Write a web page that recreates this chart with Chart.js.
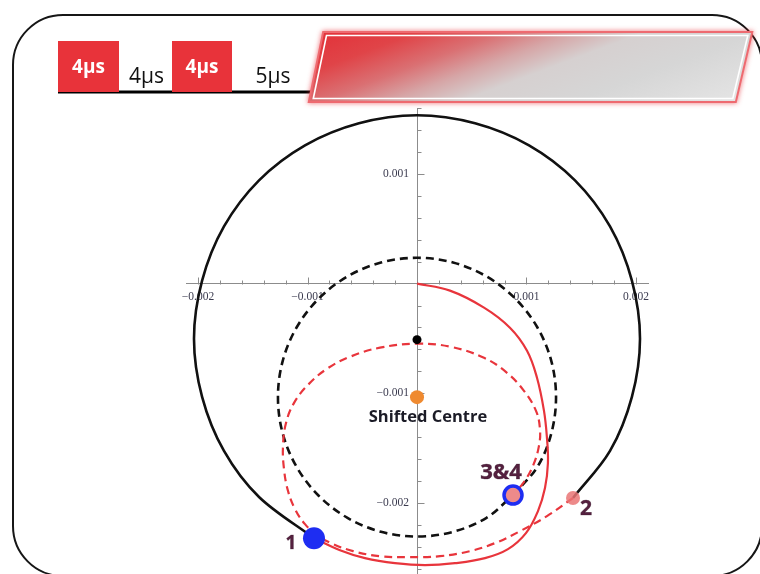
<!DOCTYPE html>
<html>
<head>
<meta charset="utf-8">
<script src="https://cdn.jsdelivr.net/npm/chart.js@4.4.1/dist/chart.umd.min.js"></script>
<style>
  html, body { margin: 0; padding: 0; background: #fff; }
  #wrap { width: 760px; height: 574px; position: relative; overflow: hidden; }
</style>
</head>
<body>
<div id="wrap"><canvas id="phase" width="760" height="588"></canvas></div>
<script>
// all coordinates in units of 1e-3 (tick labels show the real value)
const xMajorTicks = [-2, -1, 1, 2];
const yMajorTicks = [1, -1, -2];
const minorStep = 0.2;

// pulse sequence along the top
const pulseLabels = ['4μs', '4μs', '4μs', '5μs'];
const pulseOn = [true, false, true, false];

// free evolution round the unshifted centre (1 -> 2)
const outerArc = [
  [-0.941, -2.320], [-1.443, -1.945], [-1.763, -1.525], [-1.963, -1.032],
  [-2.037, -0.502], [-1.963, 0.027], [-1.763, 0.521], [-1.443, 0.941],
  [-1.023, 1.260], [-0.530, 1.461], [0, 1.534], [0.530, 1.461],
  [1.023, 1.260], [1.443, 0.941], [1.763, 0.521], [1.963, 0.027],
  [2.037, -0.502], [1.963, -1.032], [1.763, -1.525], [1.425, -1.954]
];

// free evolution round the shifted centre (3 -> 4)
const innerCircle = [
  [0.877, -1.927], [1.100, -1.670], [1.227, -1.364], [1.270, -1.035],
  [1.227, -0.706], [1.100, -0.400], [0.898, -0.137], [0.635, 0.065],
  [0.329, 0.192], [0, 0.235], [-0.329, 0.192], [-0.635, 0.065],
  [-0.898, -0.137], [-1.100, -0.400], [-1.227, -0.706], [-1.270, -1.035],
  [-1.227, -1.364], [-1.100, -1.670], [-0.898, -1.933], [-0.635, -2.135],
  [-0.329, -2.262], [0, -2.305], [0.329, -2.262], [0.635, -2.135],
  [0.877, -1.927]
];

// first pulse: origin -> 1
const firstPulse = [
  [0, 0], [0.301, -0.064], [0.612, -0.219], [0.849, -0.402], [1.005, -0.612],
  [1.096, -0.858], [1.160, -1.160], [1.187, -1.406], [1.196, -1.635],
  [1.169, -1.863], [1.105, -2.073], [0.995, -2.274], [0.831, -2.420],
  [0.621, -2.502], [0.347, -2.548], [0.073, -2.566], [-0.201, -2.548],
  [-0.475, -2.502], [-0.703, -2.429], [-0.941, -2.320]
];

// second pulse: 2 -> 3
const secondPulse = [
  [1.425, -1.954], [1.187, -2.119], [0.941, -2.256], [0.712, -2.365],
  [0.484, -2.438], [0.210, -2.484], [-0.064, -2.493], [-0.338, -2.484],
  [-0.584, -2.438], [-0.785, -2.365], [-0.913, -2.292], [-1.023, -2.192],
  [-1.114, -2.055], [-1.178, -1.890], [-1.215, -1.689], [-1.224, -1.479],
  [-1.196, -1.269], [-1.123, -1.087], [-0.995, -0.922], [-0.822, -0.776],
  [-0.612, -0.667], [-0.338, -0.584], [0, -0.548], [0.301, -0.575],
  [0.612, -0.676], [0.822, -0.813], [0.977, -0.977], [1.087, -1.160],
  [1.123, -1.324], [1.114, -1.479], [1.059, -1.662], [0.977, -1.808],
  [0.877, -1.927]
];

const point1 = [-0.941, -2.320];
const point2 = [1.425, -1.954];
const point34 = [0.877, -1.927];
const centre = [0, -0.511];
const shiftedCentre = [0, -1.035];
const pointLabels = ['3&4', '1', '2'];

const RED = '#e8353c';
const BLUE = '#1e2df2';

function toXY(list) {
  return list.map(p => ({x: p[0], y: p[1]}));
}

function isMajor(v, majors) {
  return majors.some(m => Math.abs(m - v) < 1e-6);
}

function tickValues(from, to) {
  let out = [];
  let n = Math.round((to - from) / minorStep);
  for (let i = 0; i <= n; i++) {
    let v = Math.round((from + i * minorStep) * 10) / 10;
    if (v !== 0) out.push({value: v});
  }
  return out;
}

function tickText(v, majors) {
  if (!isMajor(v, majors)) return '';
  return (v / 1000).toFixed(3).replace('-', '\u2212');
}

function zeroPad(scale) {
  scale.paddingTop = 0;
  scale.paddingBottom = 0;
  scale.paddingLeft = 0;
  scale.paddingRight = 0;
}

function curve(data, color, width, dash, tension) {
  return {
    data: toXY(data),
    showLine: true,
    borderColor: color,
    borderWidth: width,
    borderDash: dash,
    pointRadius: 0,
    tension: tension,
    fill: false
  };
}

function marker(p, fill, radius, border, borderWidth) {
  return {
    data: toXY([p]),
    showLine: false,
    pointRadius: radius,
    pointBackgroundColor: fill,
    pointBorderColor: border || fill,
    pointBorderWidth: borderWidth || 0
  };
}

function roundedRect(ctx, x, y, w, h, r) {
  ctx.beginPath();
  ctx.moveTo(x + r, y);
  ctx.arcTo(x + w, y, x + w, y + h, r);
  ctx.arcTo(x + w, y + h, x, y + h, r);
  ctx.arcTo(x, y + h, x, y, r);
  ctx.arcTo(x, y, x + w, y, r);
  ctx.closePath();
}

function poly(ctx, pts) {
  ctx.beginPath();
  pts.forEach((p, i) => i ? ctx.lineTo(p[0], p[1]) : ctx.moveTo(p[0], p[1]));
  ctx.closePath();
}

// frame, pulse sequence and banner
const slideDecor = {
  id: 'slideDecor',
  beforeDraw(chart) {
    const ctx = chart.ctx;
    ctx.save();
    ctx.fillStyle = '#fff';
    ctx.fillRect(0, 0, chart.width, chart.height);

    roundedRect(ctx, 13, 15, 749, 561, 50);
    ctx.lineWidth = 2;
    ctx.strokeStyle = '#161616';
    ctx.stroke();

    // pulse sequence
    ctx.lineWidth = 3;
    ctx.strokeStyle = '#000';
    ctx.beginPath();
    ctx.moveTo(58, 92);
    ctx.lineTo(318, 92);
    ctx.stroke();

    const boxes = [[58, 61], [119, 53], [172, 60], [232, 80]];
    ctx.textAlign = 'center';
    ctx.textBaseline = 'middle';
    pulseLabels.forEach((lab, i) => {
      let [bx, bw] = boxes[i];
      if (pulseOn[i]) {
        ctx.fillStyle = '#e8333a';
        ctx.fillRect(bx, 41, bw, 51);
        ctx.fillStyle = '#fff';
        ctx.font = 'bold 19px "Open Sans"';
        ctx.fillText(lab, bx + bw / 2, 68);
      } else {
        ctx.fillStyle = '#111';
        ctx.font = '21px "Open Sans"';
        ctx.fillText(lab, bx + bw / 2 + 1, 77);
      }
    });

    // banner
    const outer = [[324, 33], [751, 33], [735, 101], [310, 101]];
    const inner = [[326.5, 35.5], [747.8, 35.5], [732.8, 98.5], [313.3, 98.5]];
    ctx.save();
    poly(ctx, outer);
    ctx.shadowColor = 'rgba(230, 40, 50, 0.7)';
    ctx.shadowBlur = 5;
    ctx.lineWidth = 4;
    ctx.strokeStyle = '#ee6a70';
    ctx.stroke();
    ctx.restore();
    const g = ctx.createLinearGradient(330, 33, 418, 267);
    g.addColorStop(0, '#e2343b');
    g.addColorStop(0.12, '#e04448');
    g.addColorStop(0.24, '#da7073');
    g.addColorStop(0.34, '#d6a6a7');
    g.addColorStop(0.44, '#d6d0d0');
    g.addColorStop(0.6, '#d6d6d6');
    g.addColorStop(1, '#efefef');
    poly(ctx, outer);
    ctx.fillStyle = g;
    ctx.fill();
    poly(ctx, inner);
    ctx.lineWidth = 1.6;
    ctx.strokeStyle = '#fff';
    ctx.stroke();
    ctx.restore();
  }
};

// Mathematica style tick marks: major longer, x ticks up, y ticks right
const tickMarks = {
  id: 'tickMarks',
  beforeDatasetsDraw(chart) {
    const {ctx, scales: {x, y}} = chart;
    const x0 = Math.round(x.getPixelForValue(0)) + 0.5;
    const y0 = Math.round(y.getPixelForValue(0)) + 0.5;
    ctx.save();
    ctx.strokeStyle = '#8c8c8c';
    ctx.lineWidth = 1;
    ctx.beginPath();
    x.ticks.forEach(t => {
      let px = Math.round(x.getPixelForValue(t.value)) + 0.5;
      let len = isMajor(t.value, xMajorTicks) ? 7 : 4;
      ctx.moveTo(px, y0);
      ctx.lineTo(px, y0 - len);
    });
    y.ticks.forEach(t => {
      let py = Math.round(y.getPixelForValue(t.value)) + 0.5;
      let len = isMajor(t.value, yMajorTicks) ? 7 : 4;
      ctx.moveTo(x0, py);
      ctx.lineTo(x0 + len, py);
    });
    ctx.stroke();
    ctx.restore();
  }
};

// point names and the shifted centre caption
const pointText = {
  id: 'pointText',
  afterDatasetsDraw(chart) {
    const ctx = chart.ctx;
    const at = i => chart.getDatasetMeta(i).data[0];
    ctx.save();
    ctx.textAlign = 'center';
    ctx.textBaseline = 'middle';
    ctx.fillStyle = '#55203f';
    ctx.strokeStyle = 'rgba(40, 10, 30, 0.5)';
    ctx.lineWidth = 0.6;
    const spots = [[0, -12, -22, 22], [1, -23, 5, 19], [2, 13, 11, 21]];
    spots.forEach(([i, dx, dy, size]) => {
      let p = at(i);
      ctx.font = 'bold ' + size + 'px "Open Sans"';
      ctx.fillText(pointLabels[i], p.x + dx, p.y + dy);
      ctx.strokeText(pointLabels[i], p.x + dx, p.y + dy);
    });
    let c = at(4);
    ctx.fillStyle = '#1b1b26';
    ctx.font = 'bold 16.5px "Open Sans"';
    ctx.fillText('Shifted Centre', c.x + 11, c.y + 20);
    ctx.restore();
  }
};

new Chart(document.getElementById('phase'), {
  type: 'scatter',
  data: {
    datasets: [
      marker(point34, '#ee8a8a', 9, BLUE, 3.5),
      marker(point1, BLUE, 11),
      marker(point2, 'rgba(234, 118, 118, 0.85)', 7),
      marker(centre, '#000', 4.5),
      marker(shiftedCentre, '#ef8a30', 7),
      curve(firstPulse, RED, 2.2, [], 0.4),
      curve(secondPulse, RED, 2.2, [8, 5], 0.4),
      curve(outerArc, '#111', 2.6, [], 0.34),
      curve(innerCircle, '#111', 2.6, [8, 5], 0.34)
    ]
  },
  options: {
    responsive: false,
    animation: false,
    events: [],
    layout: {padding: {left: 186, right: 112, top: 108, bottom: 0}},
    plugins: {legend: {display: false}, tooltip: {enabled: false}},
    scales: {
      x: {
        type: 'linear',
        min: -2.11,
        max: 2.11,
        position: {y: 0},
        afterBuildTicks: axis => { axis.ticks = tickValues(-2, 2); },
        afterFit: zeroPad,
        grid: {drawOnChartArea: false, drawTicks: false},
        border: {color: '#8c8c8c', width: 1},
        ticks: {
          autoSkip: false,
          maxRotation: 0,
          padding: 6,
          color: '#3a3a4e',
          font: {family: '"Liberation Serif"', size: 11.5},
          callback: v => tickText(v, xMajorTicks)
        }
      },
      y: {
        type: 'linear',
        min: -2.66,
        max: 1.6,
        position: {x: 0},
        afterBuildTicks: axis => { axis.ticks = tickValues(-2.6, 1.6); },
        afterFit: zeroPad,
        grid: {drawOnChartArea: false, drawTicks: false},
        border: {color: '#8c8c8c', width: 1},
        ticks: {
          autoSkip: false,
          padding: 7,
          color: '#3a3a4e',
          font: {family: '"Liberation Serif"', size: 11.5},
          // the label sits flush on a centred axis, so pad with spaces
          callback: v => { let s = tickText(v, yMajorTicks); return s ? s + '\u2002\u2009' : ''; }
        }
      }
    }
  },
  plugins: [slideDecor, tickMarks, pointText]
});
</script>
</body>
</html>
